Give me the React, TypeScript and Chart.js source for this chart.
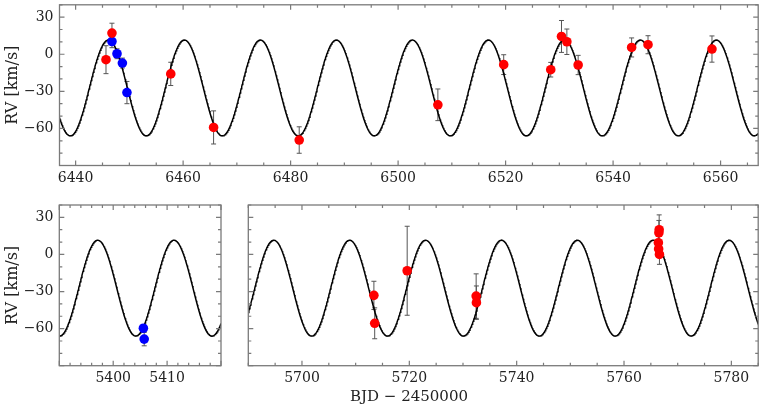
import React, { useEffect, useRef } from "react";
import { Chart, registerables } from "chart.js";
Chart.register(...registerables);

// ---- Orbit model (fitted curve) ----
const PERIOD = 14.14;
const GAMMA = -27.25;
const K_AMP = 38.75;
const PEAK_TOP = 6502.65;
const PEAK_BL = 5397.13;
const PEAK_BR = 5737.16;

// ---- Top panel data ----
const topRedX = [6445.65, 6446.76, 6457.7, 6465.67, 6481.6, 6507.4, 6519.65, 6528.4, 6530.4, 6531.4, 6533.5, 6543.45, 6546.5, 6558.4];
const topRedY = [-4.4, 17.1, -15.9, -59.2, -69.4, -40.9, -8.4, -12.5, 14.4, 10.1, -8.7, 5.5, 7.7, 4.2];
const topRedErr = [11.3, 8, 9.4, 13.4, 10.7, 12.8, 8, 5.9, 12.9, 10.3, 7.8, 7.7, 7.3, 10.6];
const topBlueX = [6446.76, 6447.7, 6448.7, 6449.55];
const topBlueY = [10.3, 0.4, -7.1, -31];
const topBlueErr = [5, 4, 4, 9];

// ---- Bottom-left panel data ----
const blBlueX = [5405.6, 5405.75];
const blBlueY = [-59.7, -68.5];
const blBlueErr = [3, 5.4];

// ---- Bottom-right panel data ----
const brRedX = [5713.4, 5713.55, 5719.6, 5732.45, 5732.5, 5766.55, 5766.5, 5766.4, 5766.45, 5766.6];
const brRedY = [-33.1, -55.7, -13.2, -33.7, -39.0, 20, 17.5, 9.5, 4.5, 0];
const brRedErr = [11.4, 12.5, 36, 18, 13.5, 12, 10, 8, 6, 8];

// ---- Axis ranges & tick labels ----
const topXRange = [6437, 6567];
const blXRange = [5390, 5420];
const brXRange = [5690, 5785];
const yRange = [-90, 40];
const topXTicks = [6440, 6460, 6480, 6500, 6520, 6540, 6560];
const blXTicks = [5400, 5410];
const brXTicks = [5700, 5720, 5740, 5760, 5780];
const yTicks = [-60, -30, 0, 30];

const SERIF = "'DejaVu Serif', serif";
const RED = "#ff0000";
const BLUE = "#0000ff";

function modelCurve(xmin: number, xmax: number, peak: number) {
  const pts: { x: number; y: number }[] = [];
  const n = Math.round((xmax - xmin) / 0.1);
  for (let i = 0; i <= n; i++) {
    const t = xmin + ((xmax - xmin) * i) / n;
    pts.push({ x: t, y: GAMMA + K_AMP * Math.cos((2 * Math.PI * (t - peak)) / PERIOD) });
  }
  return pts;
}

function zipPts(xs: number[], ys: number[]) {
  return xs.map((x, i) => ({ x, y: ys[i] }));
}

const fmt = (v: number) => (v < 0 ? "\u2212" + Math.abs(v) : String(v));

const frameTicks = {
  id: "frameTicks",
  beforeDatasetsDraw(chart: any) {
    const ctx = chart.ctx;
    const xs = chart.scales.x;
    const ys = chart.scales.y;
    const area = chart.chartArea;
    ctx.save();
    ctx.beginPath();
    ctx.rect(area.left, area.top, area.right - area.left, area.bottom - area.top);
    ctx.clip();
    ctx.strokeStyle = "#555";
    ctx.lineWidth = 1;
    chart.data.datasets.forEach((ds: any) => {
      if (!ds.errs) return;
      ds.data.forEach((p: any, i: number) => {
        const e = ds.errs[i];
        const px = xs.getPixelForValue(p.x);
        const y1 = ys.getPixelForValue(p.y - e);
        const y2 = ys.getPixelForValue(p.y + e);
        ctx.beginPath();
        ctx.moveTo(px, y1);
        ctx.lineTo(px, y2);
        ctx.moveTo(px - 2.5, y1);
        ctx.lineTo(px + 2.5, y1);
        ctx.moveTo(px - 2.5, y2);
        ctx.lineTo(px + 2.5, y2);
        ctx.stroke();
      });
    });
    ctx.restore();
  },
  afterDraw(chart: any, _args: any, opts: any) {
    const ctx = chart.ctx;
    const xs = chart.scales.x;
    const ys = chart.scales.y;
    const a = chart.chartArea;
    ctx.save();
    ctx.strokeStyle = "#7a7a7a";
    ctx.lineWidth = 1.2;
    ctx.beginPath();
    const xStart = Math.ceil(xs.min / opts.xMinor) * opts.xMinor;
    for (let v = xStart; v <= xs.max + 1e-9; v += opts.xMinor) {
      const major = Math.abs(v / opts.xMajor - Math.round(v / opts.xMajor)) < 1e-6;
      const len = major ? 5 : 3;
      const px = xs.getPixelForValue(v);
      ctx.moveTo(px, a.bottom);
      ctx.lineTo(px, a.bottom - len);
      ctx.moveTo(px, a.top);
      ctx.lineTo(px, a.top + len);
    }
    const yStart = Math.ceil(ys.min / opts.yMinor) * opts.yMinor;
    for (let v = yStart; v <= ys.max + 1e-9; v += opts.yMinor) {
      const major = Math.abs(v / opts.yMajor - Math.round(v / opts.yMajor)) < 1e-6;
      const len = major ? 5 : 3;
      const py = ys.getPixelForValue(v);
      ctx.moveTo(a.left, py);
      ctx.lineTo(a.left + len, py);
      ctx.moveTo(a.right, py);
      ctx.lineTo(a.right - len, py);
    }
    ctx.stroke();
    ctx.lineWidth = 1.3;
    ctx.strokeRect(a.left, a.top, a.right - a.left, a.bottom - a.top);
    ctx.restore();
  },
};

type PanelProps = {
  left: number;
  top: number;
  width: number;
  height: number;
  padTop: number;
  padRight: number;
  yWidth: number;
  xHeight: number;
  xRange: number[];
  xTicks: number[];
  xMinor: number;
  xMajor: number;
  showY: boolean;
  peak: number;
  sets: { x: number[]; y: number[]; e: number[]; color: string }[];
};

function Panel(p: PanelProps) {
  const ref = useRef<HTMLCanvasElement>(null);
  useEffect(() => {
    if (!ref.current) return;
    const zeroPad = (s: any) => {
      s.paddingTop = 0;
      s.paddingBottom = 0;
      s.paddingLeft = 0;
      s.paddingRight = 0;
    };
    const datasets: any[] = p.sets.map((s) => ({
      data: zipPts(s.x, s.y),
      errs: s.e,
      backgroundColor: s.color,
      borderWidth: 0,
      pointRadius: 4.8,
      pointHoverRadius: 4.8,
      order: 0,
    }));
    datasets.push({
      data: modelCurve(p.xRange[0], p.xRange[1], p.peak),
      showLine: true,
      borderColor: "#000",
      borderWidth: 1.5,
      pointRadius: 0,
      tension: 0,
      order: 10,
    });
    const chart = new Chart(ref.current, {
      type: "scatter",
      data: { datasets },
      plugins: [frameTicks as any],
      options: {
        animation: false,
        responsive: false,
        devicePixelRatio: 1,
        events: [],
        layout: { padding: { top: p.padTop, right: p.padRight, left: 0, bottom: 0 } },
        plugins: {
          legend: { display: false },
          tooltip: { enabled: false },
          frameTicks: { xMinor: p.xMinor, xMajor: p.xMajor, yMinor: 10, yMajor: 30 },
        } as any,
        scales: {
          x: {
            type: "linear",
            min: p.xRange[0],
            max: p.xRange[1],
            afterBuildTicks: (s: any) => {
              s.ticks = p.xTicks.map((v) => ({ value: v }));
            },
            afterFit: (s: any) => {
              s.height = p.xHeight;
              zeroPad(s);
            },
            grid: { display: false, drawTicks: false },
            border: { display: false },
            ticks: {
              autoSkip: false,
              maxRotation: 0,
              padding: 4,
              color: "#222",
              font: { family: SERIF, size: 14 },
              callback: (v: any) => fmt(Number(v)),
            },
          },
          y: {
            type: "linear",
            min: yRange[0],
            max: yRange[1],
            afterBuildTicks: (s: any) => {
              s.ticks = yTicks.map((v) => ({ value: v }));
            },
            afterFit: (s: any) => {
              s.width = p.yWidth;
              zeroPad(s);
            },
            grid: { display: false, drawTicks: false },
            border: { display: false },
            title: {
              display: p.showY,
              text: "RV [km/s]",
              color: "#222",
              font: { family: SERIF, size: 16 },
              padding: { top: 3, bottom: 0 },
            },
            ticks: {
              display: p.showY,
              padding: 6,
              color: "#222",
              font: { family: SERIF, size: 14 },
              callback: (v: any) => fmt(Number(v)),
            },
          },
        },
      } as any,
    });
    return () => chart.destroy();
  }, []);
  return (
    <canvas
      ref={ref}
      width={p.width}
      height={p.height}
      style={{ position: "absolute", left: p.left, top: p.top, width: p.width, height: p.height }}
    />
  );
}

export default function App() {
  return (
    <div style={{ position: "fixed", left: 0, top: 0, width: 763, height: 407, background: "#fff", overflow: "hidden" }}>
      <Panel
        left={0}
        top={0}
        width={763}
        height={190}
        padTop={4.7}
        padRight={4.3}
        yWidth={59.5}
        xHeight={24.5}
        xRange={topXRange}
        xTicks={topXTicks}
        xMinor={5}
        xMajor={20}
        showY={true}
        peak={PEAK_TOP}
        sets={[
          { x: topRedX, y: topRedY, e: topRedErr, color: RED },
          { x: topBlueX, y: topBlueY, e: topBlueErr, color: BLUE },
        ]}
      />
      <Panel
        left={0}
        top={190}
        width={240}
        height={217}
        padTop={15}
        padRight={19}
        yWidth={59.3}
        xHeight={41.3}
        xRange={blXRange}
        xTicks={blXTicks}
        xMinor={2}
        xMajor={10}
        showY={true}
        peak={PEAK_BL}
        sets={[{ x: blBlueX, y: blBlueY, e: blBlueErr, color: BLUE }]}
      />
      <Panel
        left={230}
        top={190}
        width={533}
        height={217}
        padTop={15}
        padRight={4.3}
        yWidth={18.3}
        xHeight={41.3}
        xRange={brXRange}
        xTicks={brXTicks}
        xMinor={5}
        xMajor={20}
        showY={false}
        peak={PEAK_BR}
        sets={[{ x: brRedX, y: brRedY, e: brRedErr, color: RED }]}
      />
      <div
        style={{
          position: "absolute",
          left: 409 - 150,
          width: 300,
          top: 387,
          textAlign: "center",
          fontFamily: SERIF,
          fontSize: 15,
          lineHeight: "19px",
          color: "#222",
          whiteSpace: "nowrap",
        }}
      >
        BJD {"\u2212"} 2450000
      </div>
    </div>
  );
}
